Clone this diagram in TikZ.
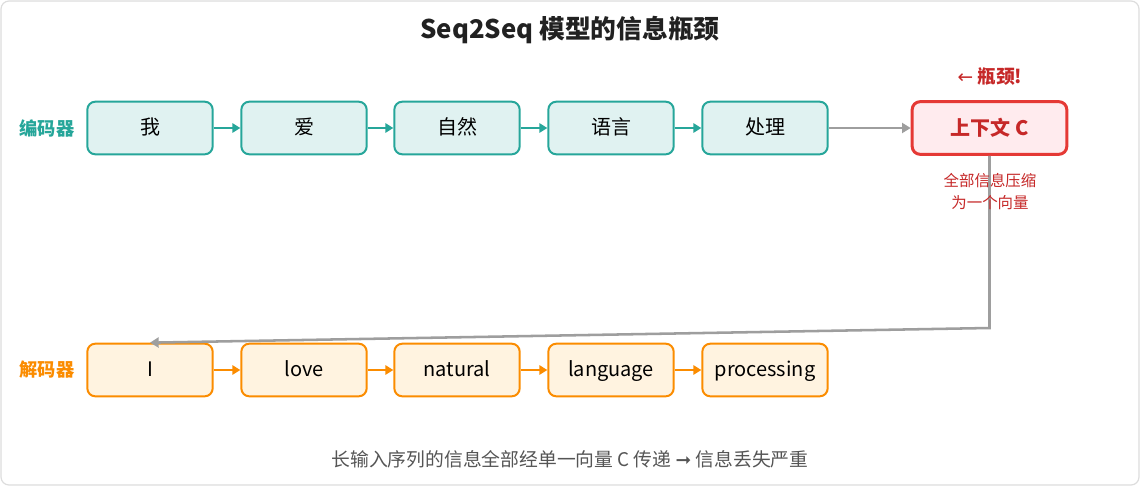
\documentclass[tikz,border=0pt]{standalone}
\usepackage{fontspec}
\setmainfont{Noto Sans CJK SC}
\newfontfamily\symfont{DejaVu Sans}
\usetikzlibrary{arrows.meta}

\definecolor{encline}{HTML}{26A69A}
\definecolor{encfill}{HTML}{E0F2F1}
\definecolor{decline}{HTML}{FB8C00}
\definecolor{decfill}{HTML}{FFF3E0}
\definecolor{ctxline}{HTML}{E53935}
\definecolor{ctxfill}{HTML}{FFEBEE}
\definecolor{ctxtext}{HTML}{C62828}
\definecolor{flowgray}{HTML}{9E9E9E}
\definecolor{capgray}{HTML}{555555}
\definecolor{framegray}{HTML}{DDDDDD}

\tikzset{
  tokbox/.style={rounded corners=6pt, line width=1.5pt, minimum width=94pt, minimum height=39.5pt, inner sep=0pt, text height=0.96em, text depth=0pt, font=\fontsize{15}{18}\selectfont},
  encbox/.style={tokbox, draw=encline, fill=encfill},
  decbox/.style={tokbox, draw=decline, fill=decfill},
  ctxbox/.style={rounded corners=6pt, line width=2.25pt, draw=ctxline, fill=ctxfill, minimum width=116pt, minimum height=39.5pt, inner sep=0pt, text=ctxtext, font=\fontsize{15}{18}\selectfont\bfseries},
  encarrow/.style={draw=encline, line width=1.5pt, -{Triangle[length=6pt,width=7pt]}},
  decarrow/.style={draw=decline, line width=1.5pt, -{Triangle[length=6pt,width=7pt]}},
  grayarrow/.style={draw=flowgray, line width=1.9pt, -{Triangle[length=6.5pt,width=7.5pt]}},
  rowlabel/.style={font=\fontsize{13.7}{16}\selectfont\bfseries, inner sep=0pt}
}

\begin{document}
\begin{tikzpicture}[x=0.75pt,y=0.75pt,yscale=-1,xscale=1]
  \useasboundingbox (0,0) rectangle (1140,486);
  % frame
  \draw[framegray, fill=white, line width=0.9pt, rounded corners=6pt] (1,1) rectangle (1139,485);

  % Title
  \node (title) at (570,30) [inner sep=0pt, font=\fontsize{19.3}{22}\selectfont\bfseries, text={black!87}] {Seq2Seq 模型的信息瓶颈};

  % Encoder row
  \node (enclabel) at (47,128) [rowlabel, text=encline] {编码器};
  \node (enc1) at (150,128) [encbox] {我};
  \node (enc2) at (304,128) [encbox] {爱};
  \node (enc3) at (457,128) [encbox] {自然};
  \node (enc4) at (611,128) [encbox] {语言};
  \node (enc5) at (765,128) [encbox] {处理};
  \node (ctx) at (989.5,128) [ctxbox] {上下文 C};

  \draw[encarrow] (enc1) -- (enc2);
  \draw[encarrow] (enc2) -- (enc3);
  \draw[encarrow] (enc3) -- (enc4);
  \draw[encarrow] (enc4) -- (enc5);
  \draw[grayarrow] (enc5) -- (ctx);

  % bottleneck notes
  \node (neck) at (990,77) [inner sep=0pt, text=ctxtext, font=\fontsize{14}{16}\selectfont\bfseries] {{\symfont\mdseries ←} 瓶颈!};

  % Decoder row
  \node (declabel) at (47,370) [rowlabel, text=decline] {解码器};
  \node (dec1) at (150,370) [decbox] {I};
  \node (dec2) at (304,370) [decbox] {love};
  \node (dec3) at (457,370) [decbox] {natural};
  \node (dec4) at (611,370) [decbox] {language};
  \node (dec5) at (765,370) [decbox] {processing};

  \draw[decarrow] (dec1) -- (dec2);
  \draw[decarrow] (dec2) -- (dec3);
  \draw[decarrow] (dec3) -- (dec4);
  \draw[decarrow] (dec4) -- (dec5);

  % context vector handed to the decoder
  \coordinate (bend) at (989.5,328);
  \draw[grayarrow, line join=miter] (ctx.south) -- (bend) -- (dec1.north);

  \node (squeeze) at (990,192) [inner sep=0pt, align=center, text=ctxtext, font=\fontsize{11.6}{16.5}\selectfont] {全部信息压缩\\为一个向量};

  % Caption
  \node (caption) at (570,459) [inner sep=0pt, text=capgray, font=\fontsize{14.1}{16}\selectfont] {长输入序列的信息全部经单一向量 C 传递 {\symfont ➞} 信息丢失严重};
\end{tikzpicture}
\end{document}
